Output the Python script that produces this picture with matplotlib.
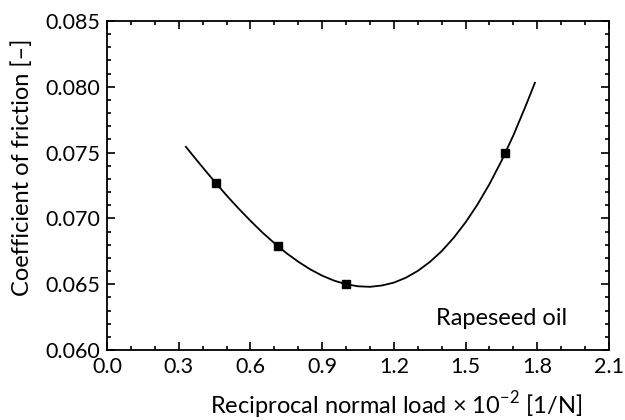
import matplotlib.pyplot as plt
from matplotlib.ticker import MultipleLocator, FormatStrFormatter

plt.rcParams['font.family'] = ['Lato', 'DejaVu Sans']
plt.rcParams['mathtext.fontset'] = 'custom'
plt.rcParams['mathtext.rm'] = 'Lato'

# measured points
load_x = [0.4545, 0.714, 1.0, 1.667]
cof_y = [0.0727, 0.0679, 0.0650, 0.0750]

# fitted curve
fit_x = [0.33, 0.35, 0.4, 0.45, 0.5, 0.55, 0.6, 0.65, 0.7, 0.75, 0.8, 0.85, 0.9, 0.95,
         1.0, 1.05, 1.1, 1.15, 1.2, 1.25, 1.3, 1.35, 1.4, 1.45, 1.5, 1.55, 1.6, 1.65,
         1.7, 1.75, 1.79]
fit_y = [0.07544, 0.07499, 0.07388, 0.07280, 0.07175, 0.07076, 0.06982, 0.06893,
         0.06812, 0.06737, 0.06671, 0.06613, 0.06565, 0.06527, 0.06500, 0.06484,
         0.06480, 0.06490, 0.06512, 0.06549, 0.06601, 0.06668, 0.06751, 0.06852,
         0.06970, 0.07106, 0.07261, 0.07436, 0.07631, 0.07848, 0.08030]

fig = plt.figure(figsize=(6.25, 4.2), dpi=100)
ax = fig.add_axes([0.1712, 0.1667, 0.8032, 0.7833])

ax.plot(fit_x, fit_y, color='black', linewidth=1.3)
ax.plot(load_x, cof_y, linestyle='none', marker='s', markersize=6, color='black')

ax.set_xlim(0, 2.1)
ax.set_ylim(0.060, 0.085)
ax.xaxis.set_major_locator(MultipleLocator(0.3))
ax.xaxis.set_minor_locator(MultipleLocator(0.1))
ax.yaxis.set_major_locator(MultipleLocator(0.005))
ax.yaxis.set_minor_locator(MultipleLocator(0.001))
ax.xaxis.set_major_formatter(FormatStrFormatter('%.1f'))
ax.yaxis.set_major_formatter(FormatStrFormatter('%.3f'))

ax.tick_params(which='both', direction='in', top=True, right=True, labelsize=15.5, width=1.2)
ax.tick_params(which='major', length=6)
ax.tick_params(axis='x', which='major', pad=5)
ax.tick_params(axis='y', which='major', pad=5)
ax.tick_params(which='minor', length=3)
for s in ax.spines.values():
    s.set_linewidth(1.3)

ax.set_xlabel(r'Reciprocal normal load × 10$^{-2}$ [1/N]', fontsize=17)
ax.set_ylabel('Coefficient of friction [–]', fontsize=17)
ax.xaxis.set_label_coords(0.576, -0.12)
ax.yaxis.set_label_coords(-0.147, 0.555)
ax.text(0.916, 0.076, 'Rapeseed oil', transform=ax.transAxes, ha='right', va='baseline', fontsize=17)

fig.savefig('out.png', dpi=100)
